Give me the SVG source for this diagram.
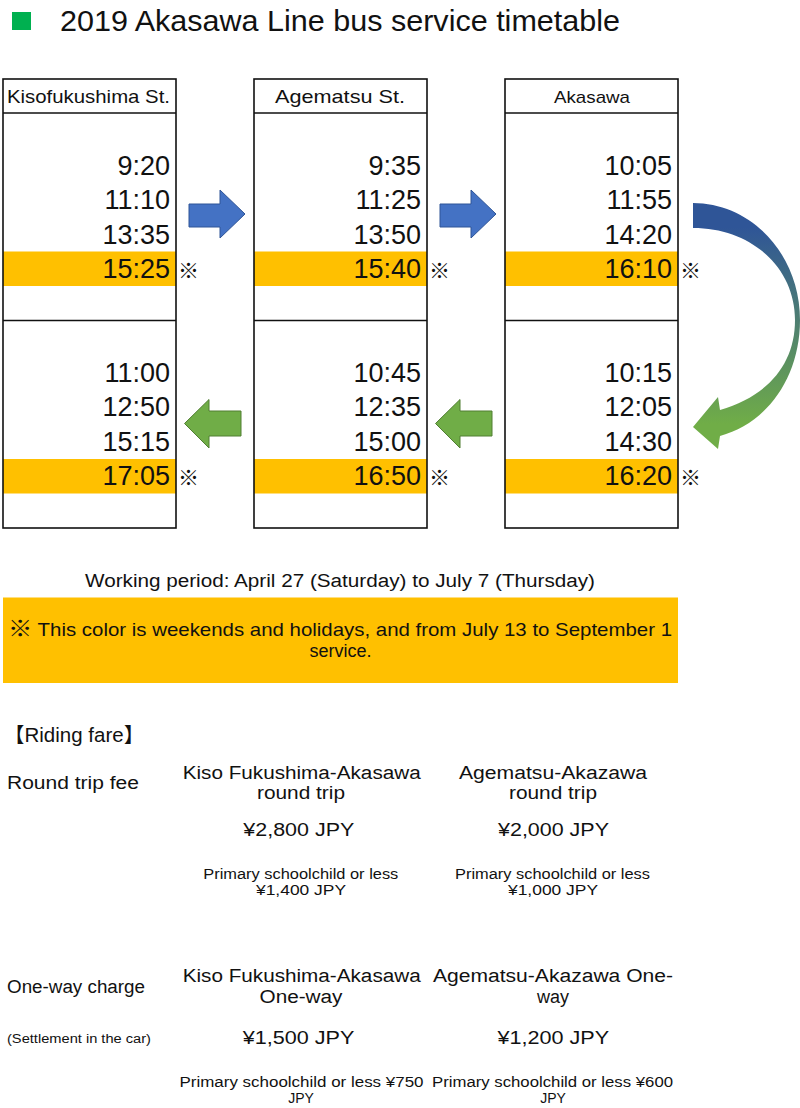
<svg xmlns="http://www.w3.org/2000/svg" width="800" height="1108" viewBox="0 0 800 1108">
<style>
text{font-family:"Liberation Sans","Noto Sans CJK JP",sans-serif;fill:#111}
.frame{fill:none;stroke:#111;stroke-width:1.6}
.hl{fill:#FFC000}
.t{font-size:27px;text-anchor:end}
.hd{font-size:19px}
.mk{font-size:21px;font-family:"Noto Sans CJK JP",sans-serif}
.m{font-size:18px}
.s{font-size:14px}
.c{text-anchor:middle}
.ab{fill:#4472C4;stroke:#2F5597;stroke-width:1}
.ag{fill:#70AD47;stroke:#507E32;stroke-width:1}
</style>
<defs>
<linearGradient id="cg" x1="0" y1="0" x2="0" y2="1">
<stop offset="0.1" stop-color="#2F5597"/>
<stop offset="0.9" stop-color="#70AD47"/>
</linearGradient>
</defs>
<rect width="800" height="1108" fill="#fff"/>
<g id="title">
<rect x="12" y="12" width="19" height="18" fill="#00B050"/>
<text x="60" y="31" font-size="29" textLength="560" lengthAdjust="spacingAndGlyphs">2019 Akasawa Line bus service timetable</text>
</g>
<g id="kisofukushima">
<rect class="hl" x="3" y="251.5" width="173" height="34.5"/>
<rect class="hl" x="3" y="459" width="173" height="34.5"/>
<rect class="frame" x="3" y="79" width="173" height="449"/>
<line class="frame" x1="3" y1="113" x2="176" y2="113"/>
<line class="frame" x1="3" y1="320.5" x2="176" y2="320.5"/>
<text class="hd" x="7" y="103" textLength="163" lengthAdjust="spacingAndGlyphs">Kisofukushima St.</text>
<text class="t" x="170" y="174.5">9:20</text>
<text class="t" x="170" y="209">11:10</text>
<text class="t" x="170" y="243.5">13:35</text>
<text class="t" x="170" y="278">15:25</text>
<text class="mk" x="178" y="278">※</text>
<text class="t" x="170" y="381.5">11:00</text>
<text class="t" x="170" y="416">12:50</text>
<text class="t" x="170" y="450.5">15:15</text>
<text class="t" x="170" y="485">17:05</text>
<text class="mk" x="178" y="485">※</text>
</g>
<g id="agematsu">
<rect class="hl" x="254" y="251.5" width="173" height="34.5"/>
<rect class="hl" x="254" y="459" width="173" height="34.5"/>
<rect class="frame" x="254" y="79" width="173" height="449"/>
<line class="frame" x1="254" y1="113" x2="427" y2="113"/>
<line class="frame" x1="254" y1="320.5" x2="427" y2="320.5"/>
<text class="hd" x="275" y="103" textLength="130" lengthAdjust="spacingAndGlyphs">Agematsu St.</text>
<text class="t" x="421" y="174.5">9:35</text>
<text class="t" x="421" y="209">11:25</text>
<text class="t" x="421" y="243.5">13:50</text>
<text class="t" x="421" y="278">15:40</text>
<text class="mk" x="429" y="278">※</text>
<text class="t" x="421" y="381.5">10:45</text>
<text class="t" x="421" y="416">12:35</text>
<text class="t" x="421" y="450.5">15:00</text>
<text class="t" x="421" y="485">16:50</text>
<text class="mk" x="429" y="485">※</text>
</g>
<g id="akasawa">
<rect class="hl" x="505" y="251.5" width="173" height="34.5"/>
<rect class="hl" x="505" y="459" width="173" height="34.5"/>
<rect class="frame" x="505" y="79" width="173" height="449"/>
<line class="frame" x1="505" y1="113" x2="678" y2="113"/>
<line class="frame" x1="505" y1="320.5" x2="678" y2="320.5"/>
<text x="554" y="103" font-size="17" textLength="76" lengthAdjust="spacingAndGlyphs">Akasawa</text>
<text class="t" x="672" y="174.5">10:05</text>
<text class="t" x="672" y="209">11:55</text>
<text class="t" x="672" y="243.5">14:20</text>
<text class="t" x="672" y="278">16:10</text>
<text class="mk" x="680" y="278">※</text>
<text class="t" x="672" y="381.5">10:15</text>
<text class="t" x="672" y="416">12:05</text>
<text class="t" x="672" y="450.5">14:30</text>
<text class="t" x="672" y="485">16:20</text>
<text class="mk" x="680" y="485">※</text>
</g>
<g id="connectors">
<polygon class="ab" points="189,204 220,204 220,190 245,214 220,238 220,227 189,227"/>
<polygon class="ab" points="440,204 471,204 471,190 496,214 471,238 471,227 440,227"/>
<polygon class="ag" points="241,411 209,411 209,399.5 184.5,423.5 209,448 209,436 241,436"/>
<polygon class="ag" points="492,411 460,411 460,399.5 435.5,423.5 460,448 460,436 492,436"/>
<path fill="url(#cg)" d="M693,203 C752,203 800,255 800,320 C800,378 766,424 720,436 L718,449 L693,427 L718,397 L720,410 C768,396 795,364 795,320 C795,268 752,228 693,228 Z"/>
</g>
<g id="notes">
<text class="m" x="85" y="586.5" textLength="510" lengthAdjust="spacingAndGlyphs">Working period: April 27 (Saturday) to July 7 (Thursday)</text>
<rect class="hl" x="3" y="597.5" width="675" height="85.5"/>
<text x="8" y="636" font-size="18.5" textLength="664" lengthAdjust="spacingAndGlyphs"><tspan font-size="22">※</tspan> This color is weekends and holidays, and from July 13 to September 1</text>
<text class="m c" x="340.5" y="657">service.</text>
</g>
<g id="fares">
<text x="4" y="742" font-size="20.5">【Riding fare】</text>
<text class="m" x="7" y="789" textLength="132" lengthAdjust="spacingAndGlyphs">Round trip fee</text>
<text class="m" x="182.7" y="778.5" textLength="238" lengthAdjust="spacingAndGlyphs">Kiso Fukushima-Akasawa</text>
<text class="m" x="257" y="798.5" textLength="88" lengthAdjust="spacingAndGlyphs">round trip</text>
<text class="m" x="459" y="778.5" textLength="188" lengthAdjust="spacingAndGlyphs">Agematsu-Akazawa</text>
<text class="m" x="509" y="798.5" textLength="88" lengthAdjust="spacingAndGlyphs">round trip</text>
<text class="m" x="243.3" y="836" textLength="111" lengthAdjust="spacingAndGlyphs">¥2,800 JPY</text>
<text class="m" x="498" y="836" textLength="111" lengthAdjust="spacingAndGlyphs">¥2,000 JPY</text>
<text class="s" x="203.3" y="878.5" textLength="195" lengthAdjust="spacingAndGlyphs">Primary schoolchild or less</text>
<text class="s" x="256" y="894.5" textLength="90" lengthAdjust="spacingAndGlyphs">¥1,400 JPY</text>
<text class="s" x="455" y="878.5" textLength="195" lengthAdjust="spacingAndGlyphs">Primary schoolchild or less</text>
<text class="s" x="508" y="894.5" textLength="90" lengthAdjust="spacingAndGlyphs">¥1,000 JPY</text>
<text class="m" x="7" y="993" textLength="138" lengthAdjust="spacingAndGlyphs">One-way charge</text>
<text x="7" y="1043" font-size="12.5" textLength="144" lengthAdjust="spacingAndGlyphs">(Settlement in the car)</text>
<text class="m" x="182.7" y="981.5" textLength="238" lengthAdjust="spacingAndGlyphs">Kiso Fukushima-Akasawa</text>
<text class="m" x="259.5" y="1003" textLength="83" lengthAdjust="spacingAndGlyphs">One-way</text>
<text class="m" x="433" y="981.5" textLength="240" lengthAdjust="spacingAndGlyphs">Agematsu-Akazawa One-</text>
<text class="m c" x="553" y="1003">way</text>
<text class="m" x="242.7" y="1044" textLength="111.6" lengthAdjust="spacingAndGlyphs">¥1,500 JPY</text>
<text class="m" x="497.5" y="1044" textLength="111.6" lengthAdjust="spacingAndGlyphs">¥1,200 JPY</text>
<text class="s" x="179.5" y="1087" textLength="244" lengthAdjust="spacingAndGlyphs">Primary schoolchild or less ¥750</text>
<text class="s c" x="301" y="1103">JPY</text>
<text class="s" x="432" y="1087" textLength="241" lengthAdjust="spacingAndGlyphs">Primary schoolchild or less ¥600</text>
<text class="s c" x="553" y="1103">JPY</text>
</g>
</svg>
